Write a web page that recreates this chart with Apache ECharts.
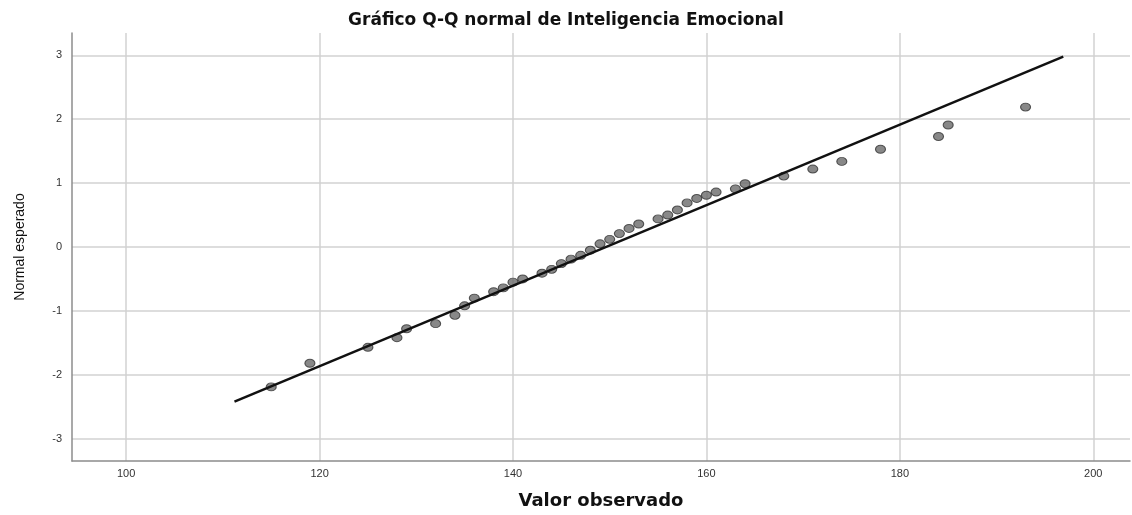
<!DOCTYPE html>
<html>
<head>
<meta charset="utf-8">
<style>
  html, body { margin: 0; padding: 0; background: #fff; }
  #chart { width: 1132px; height: 515px; }
</style>
<script src="https://cdn.jsdelivr.net/npm/echarts@6/dist/echarts.min.js"></script>
</head>
<body>
<div id="chart"></div>
<script>
const observed = [115, 119, 125, 128, 129, 132, 134, 135, 136, 138, 139, 140, 141, 143, 144, 145, 146, 147, 148, 149,
  150, 151, 152, 153, 155, 156, 157, 158, 159, 160, 161, 163, 164, 168, 171, 174, 178, 184, 185, 193]
const expected = [-2.19, -1.82, -1.57, -1.42, -1.28, -1.20, -1.07, -0.92, -0.80, -0.70, -0.64, -0.55, -0.50, -0.41, -0.35,
  -0.26, -0.19, -0.13, -0.05, 0.05, 0.12, 0.21, 0.29, 0.36, 0.44, 0.50, 0.58, 0.69, 0.76, 0.81, 0.86, 0.91, 0.99,
  1.11, 1.22, 1.34, 1.53, 1.73, 1.91, 2.19]

// reference line end points
const lineX = [111.2, 196.9]
const lineY = [-2.42, 2.98]

const xTicks = [100, 120, 140, 160, 180, 200]
const yTicks = [-3, -2, -1, 0, 1, 2, 3]

const chart = echarts.init(document.getElementById('chart'))

const gridLine = { lineStyle: { color: '#d2d2d2', width: 1.5 } }
const axisLine = { lineStyle: { color: '#8c8c8c', width: 1.5 } }
const label = { color: '#333', fontSize: 11, fontFamily: 'Liberation Sans' }

chart.setOption({
  animation: false,
  title: {
    text: 'Gráfico Q-Q normal de Inteligencia Emocional',
    left: 'center',
    top: 7,
    textStyle: {
      color: '#111',
      fontSize: 17,
      fontWeight: 'bold',
      fontFamily: 'DejaVu Sans'
    }
  },
  grid: { left: 72, right: 2, top: 33, bottom: 44 },
  xAxis: {
    type: 'value',
    min: 94.4,
    max: 203.8,
    name: 'Valor observado',
    nameLocation: 'middle',
    nameGap: 31,
    nameTextStyle: { color: '#111', fontSize: 18, fontWeight: 'bold', fontFamily: 'DejaVu Sans' },
    axisLine: Object.assign({ show: true, onZero: false }, axisLine),
    axisTick: { show: false, customValues: xTicks },
    axisLabel: Object.assign({ customValues: xTicks, margin: 7 }, label),
    splitLine: gridLine
  },
  yAxis: {
    type: 'value',
    min: -3.35,
    max: 3.35,
    name: 'Normal esperado',
    nameLocation: 'middle',
    nameGap: 45,
    nameTextStyle: { color: '#111', fontSize: 14, fontFamily: 'Liberation Sans Narrow, Liberation Sans' },
    axisLine: Object.assign({ show: true, onZero: false }, axisLine),
    axisTick: { show: false, customValues: yTicks },
    axisLabel: Object.assign({ customValues: yTicks, margin: 10 }, label),
    splitLine: gridLine
  },
  series: [
    {
      type: 'scatter',
      symbol: 'circle',
      symbolSize: [10, 8],
      itemStyle: { color: '#6a6a6a', borderColor: '#333', borderWidth: 1 },
      data: observed.map((v, i) => [v, expected[i]]),
      silent: true
    },
    {
      type: 'line',
      symbol: 'none',
      lineStyle: { color: '#111', width: 2.5 },
      data: lineX.map((v, i) => [v, lineY[i]]),
      silent: true,
      z: 3
    }
  ]
})
</script>
</body>
</html>
